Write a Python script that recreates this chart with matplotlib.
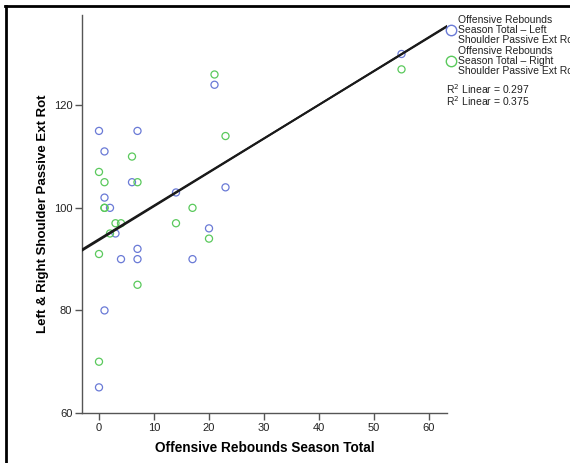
import numpy as np
import matplotlib
matplotlib.use("Agg")
import matplotlib.pyplot as plt
from matplotlib.lines import Line2D

# Data
left_x = [0, 1, 7, 21, 6, 1, 2, 14, 23, 55, 3, 4, 7, 7, 17, 20, 1, 0]
left_y = [115, 111, 115, 124, 105, 102, 100, 103, 104, 130, 95, 90, 92, 90, 90, 96, 80, 65]
right_x = [21, 23, 6, 0, 1, 7, 17, 55, 1, 1, 3, 4, 2, 14, 20, 0, 7, 0]
right_y = [126, 114, 110, 107, 105, 105, 100, 127, 100, 100, 97, 97, 95, 97, 94, 91, 85, 70]
# Linear fit lines (intercept, slope)
left_fit = [93.7, 0.660]
right_fit = [93.9, 0.655]
legend_labels = ["Offensive Rebounds\nSeason Total \u2013 Left\nShoulder Passive Ext Rot",
                 "Offensive Rebounds\nSeason Total \u2013 Right\nShoulder Passive Ext Rot"]
r2_labels = ["R$^{2}$ Linear = 0.297", "R$^{2}$ Linear = 0.375"]
x_ticks = [0, 10, 20, 30, 40, 50, 60]
y_ticks = [60, 80, 100, 120]

BLUE = "#6a7ad6"
GREEN = "#5ac95c"
FONT = "Liberation Sans"

W, H = 570, 463
fig = plt.figure(figsize=(W / 100, H / 100), dpi=100)
ax = fig.add_axes([82 / W, 1 - 413 / H, (447 - 82) / W, (413 - 15) / H])

ax.scatter(left_x, left_y, s=26, facecolors="none", edgecolors=BLUE, linewidths=0.9, zorder=3)
ax.scatter(right_x, right_y, s=26, facecolors="none", edgecolors=GREEN, linewidths=0.9, zorder=3)

xlim = (-3.09, 63.27)
xs = np.array(xlim)
for b, m in [left_fit, right_fit]:
    ax.plot(xs, b + m * xs, color="#1a1a1a", lw=1.4, zorder=4)

ax.set_xlim(*xlim)
ax.set_ylim(60, 137.6)
ax.set_xticks(x_ticks)
ax.set_yticks(y_ticks)
for s in ["top", "right"]:
    ax.spines[s].set_visible(False)
for s in ["left", "bottom"]:
    ax.spines[s].set_color("#555555")
    ax.spines[s].set_linewidth(1.0)
ax.tick_params(direction="out", length=5, width=1.0, color="#555555",
               labelsize=8, labelcolor="#222222", pad=2)
for lab in ax.get_xticklabels() + ax.get_yticklabels():
    lab.set_family(FONT)

ax.set_xlabel("Offensive Rebounds Season Total", fontsize=9.8, fontweight="bold",
              family=FONT, labelpad=6)
ax.set_ylabel("Left & Right Shoulder Passive Ext Rot", fontsize=9.5, fontweight="bold",
              family=FONT, labelpad=3)

def fx(px):
    return px / W

def fy(py):
    return 1 - py / H

# Legend (custom, outside the axes, clipped at the right edge as in the reference)
for i, (lab, col) in enumerate(zip(legend_labels, [BLUE, GREEN])):
    ymid = 30 + i * 31
    fig.add_artist(Line2D([fx(451)], [fy(ymid)], marker="o", markersize=7.5,
                          markerfacecolor="none", markeredgecolor=col, markeredgewidth=1.0,
                          linestyle="none"))
    fig.text(fx(458), fy(ymid), lab, fontsize=7.5, family=FONT, color="#222222",
             va="center", ha="left", linespacing=1.0)

for i, lab in enumerate(r2_labels):
    fig.text(fx(446), fy(89 + i * 12.5), lab, fontsize=7.5, family=FONT, color="#222222",
             va="center", ha="left")

# Frame around the figure (left and top visible)
fig.add_artist(Line2D([fx(5.5), fx(5.5)], [fy(6), 0], color="black", lw=2))
fig.add_artist(Line2D([fx(5), 1], [fy(6), fy(6)], color="black", lw=2))

fig.savefig("out.png", dpi=100)
